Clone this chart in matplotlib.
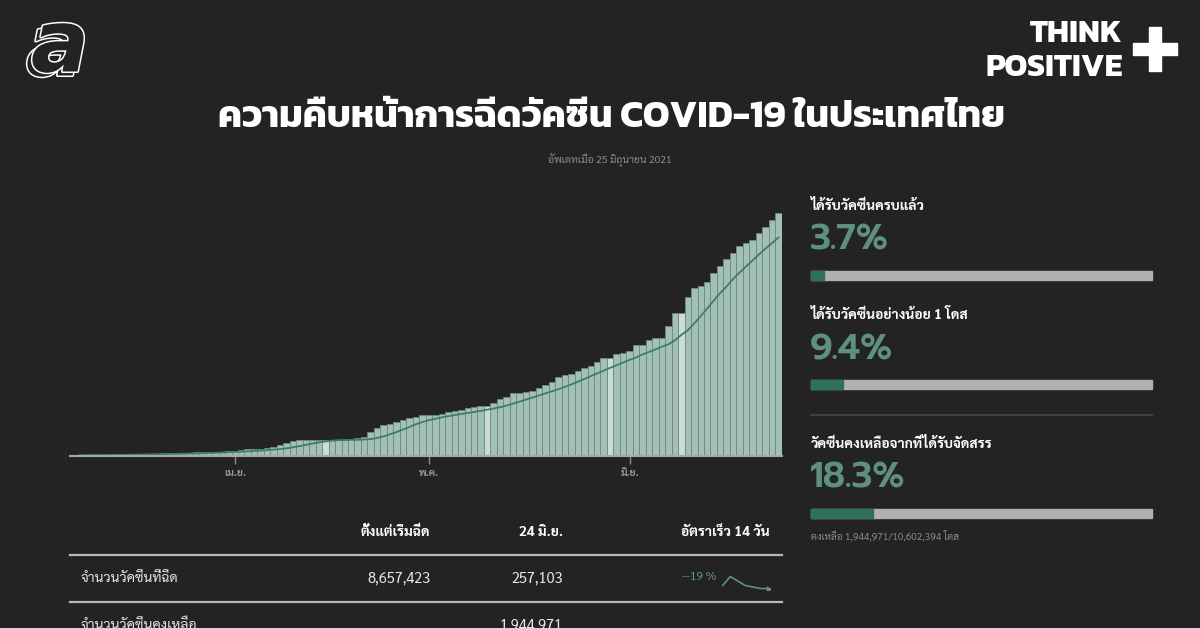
import matplotlib
matplotlib.use('Agg')
import matplotlib.pyplot as plt
from matplotlib import font_manager
from matplotlib.ft2font import FT2Font
from matplotlib.patches import Rectangle
import matplotlib.patheffects as pe
import numpy as np
import pandas as pd

# look for fonts that can draw Thai
def find_thai():
    found = []
    for f in font_manager.fontManager.ttflist:
        try:
            cm = FT2Font(f.fname).get_charmap()
        except Exception:
            continue
        if 0x0E01 in cm and 0x0E35 in cm:
            found.append(f.name)
    return found

THAI = set(find_thai())
def pick(*names):
    for n in names:
        if n in THAI:
            return [n, 'DejaVu Sans']
    return ['DejaVu Sans']

BODY = pick('Sarabun', 'IBM Plex Sans Thai Looped', 'Loma', 'Noto Sans Thai')
HEAD = pick('Kanit', 'Prompt', 'Mitr', 'Noto Sans Thai')
NUM = pick('Prompt', 'Kanit', 'Noto Sans Thai')
plt.rcParams['font.family'] = BODY

# ---- data ----
start_date = '2021-03-07'
doses_m = [0.03, 0.03, 0.04, 0.04, 0.04, 0.05, 0.05, 0.05, 0.06, 0.06, 0.07, 0.07, 0.08, 0.08, 0.09, 0.09, 0.10, 0.10,
           0.11, 0.13, 0.13, 0.14, 0.14, 0.15, 0.19, 0.19, 0.20, 0.24, 0.24, 0.25, 0.28, 0.32, 0.38, 0.46, 0.53, 0.56,
           0.57, 0.57, 0.57, 0.57,
           0.58, 0.58, 0.58, 0.59, 0.63, 0.68,
           0.85, 1.00, 1.09, 1.13, 1.22, 1.28, 1.34, 1.40, 1.46, 1.47, 1.47, 1.49, 1.58, 1.61, 1.65, 1.71, 1.73, 1.78,
           1.78,
           1.90, 2.02, 2.11, 2.23, 2.23, 2.27, 2.32, 2.43, 2.53, 2.63, 2.80, 2.87,
           2.92, 3.01, 3.14, 3.20, 3.33, 3.50,
           3.50,
           3.62, 3.65, 3.75, 3.95, 3.95, 4.13, 4.19, 4.21, 4.64, 5.10,
           5.10,
           5.67, 5.97, 6.06, 6.18, 6.50, 6.77, 7.00, 7.21, 7.48, 7.59, 7.69, 7.92, 8.14, 8.40, 8.657423]
no_update_days = ['2021-04-15', '2021-05-10', '2021-05-29', '2021-06-09']
month_ticks = ['2021-04-01', '2021-05-01', '2021-06-01']
month_labels = ['เม.ย.', 'พ.ค.', 'มิ.ย.']

panel_titles = ['ได้รับวัคซีนครบแล้ว', 'ได้รับวัคซีนอย่างน้อย 1 โดส', 'วัคซีนคงเหลือจากที่ได้รับจัดสรร']
panel_pcts = [3.7, 9.4, 18.3]
panel_note = 'คงเหลือ 1,944,971/10,602,394 โดส'

table_cols = ['ตั้งแต่เริ่มฉีด', '24 มิ.ย.', 'อัตราเร็ว 14 วัน']
table_rows = ['จำนวนวัคซีนที่ฉีด', 'จำนวนวัคซีนคงเหลือ']
table_total = ['8,657,423', '']
table_day = ['257,103', '1,944,971']
table_rate = ['--19 %', '']
spark_vals = [5, 11, 8, 5, 4, 3, 3]

title = 'ความคืบหน้าการฉีดวัคซีน COVID-19 ในประเทศไทย'
subtitle = 'อัพเดทเมื่อ 25 มิถุนายน 2021'

BG = '#232323'
TEAL_TXT = '#5e8f7f'
TEAL = '#2f6f5e'
W, H = 1200, 628

fig = plt.figure(figsize=(12, 6.28), dpi=100, facecolor=BG)

def box(x0, y0, x1, y1):
    # pixel box (from top-left) -> figure fraction
    return [x0 / W, 1 - y1 / H, (x1 - x0) / W, (y1 - y0) / H]

# overlay for texts/shapes in pixel coords
ov = fig.add_axes([0, 0, 1, 1])
ov.set_xlim(0, W)
ov.set_ylim(H, 0)
ov.axis('off')

# ---- main chart ----
dates = pd.date_range(start_date, periods=len(doses_m), freq='D')
s = pd.Series(doses_m, index=dates)
avg = s.rolling(7, min_periods=1).mean().shift(1)
light = pd.to_datetime(no_update_days)
cols = ['#c9ddd3' if d in light else '#a3c0b4' for d in dates]

ax = fig.add_axes(box(69.7, 203.1, 781.7, 456))
ax.set_facecolor(BG)
ax.bar(dates, s.values, width=1.0, color=cols, edgecolor='#6f8a80', linewidth=0.6)
ax.plot(dates, avg.values, color='#3d7c68', lw=1.3)
ax.set_xlim(dates[0] - pd.Timedelta(hours=12), dates[-1] + pd.Timedelta(hours=12))
ax.set_ylim(0, 9.0)
for sp in ['top', 'right', 'left']:
    ax.spines[sp].set_visible(False)
ax.spines['bottom'].set_color('#a8a8a8')
ax.spines['bottom'].set_linewidth(1.5)
ax.set_yticks([])
ax.set_xticks(pd.to_datetime(month_ticks))
ax.set_xticklabels(month_labels, fontsize=7.5, color='#8d9ba3', fontweight='bold')
ax.tick_params(axis='x', length=6, width=1, color='#8a8a8a', pad=3)

# ---- title ----
ov.text(611, 118, title, color='white', fontsize=27, fontweight='bold', ha='center', va='center', family=HEAD)
ov.text(610, 160, subtitle, color='#8a8a8a', fontsize=7.5, ha='center', va='center')

# ---- logos ----
# outlined "a" with a small offset copy behind it for the 3D look
for dx, dy in [(-5, 4), (0, 0)]:
    ov.text(60 + dx, 48 + dy, 'a', color=BG, fontsize=62, fontweight='bold', style='oblique', ha='center',
            va='center', family='DejaVu Sans', path_effects=[pe.withStroke(linewidth=2.2, foreground='white')])
ov.text(1123, 35, 'THINK', color='white', fontsize=23, fontweight='bold', ha='right', va='center', family=HEAD)
ov.text(1123, 68, 'POSITIVE', color='white', fontsize=23, fontweight='bold', ha='right', va='center', family=HEAD)
ov.add_patch(Rectangle((1149, 27), 12, 44, color='white'))
ov.add_patch(Rectangle((1133, 43), 44, 12, color='white'))

# ---- right panel ----
px0, px1 = 811, 1152
tops = [206, 315, 444]
for t, pct, yt in zip(panel_titles, panel_pcts, tops):
    ov.text(px0, yt, t, color='white', fontsize=10, fontweight='bold', ha='left', va='center')
    ov.text(px0 - 1, yt + 35, f'{pct}%', color=TEAL_TXT, fontsize=26, fontweight='semibold', ha='left', va='center',
            family=NUM)
    by = yt + 65
    ov.add_patch(Rectangle((px0, by), px1 - px0, 9, color='#b0b0b0'))
    ov.add_patch(Rectangle((px0, by), (px1 - px0) * pct / 100, 9, color=TEAL))
ov.plot([px0, px1], [415, 415], color='#474747', lw=1.2)
ov.text(px0, 536, panel_note, color='#8a8a8a', fontsize=7.2, ha='left', va='center')

# ---- table ----
col_x = [430, 563, 770]
for c, x in zip(table_cols, col_x):
    ov.text(x, 532, c, color='white', fontsize=10, fontweight='bold', ha='right', va='center')
ov.plot([70, 782], [555, 555], color='#b8b8b8', lw=1.6)
ov.plot([70, 782], [602, 602], color='#b8b8b8', lw=1.6)
row_y = [578, 625]
for r, tot, day, rate, y in zip(table_rows, table_total, table_day, table_rate, row_y):
    ov.text(81, y, r, color='#e6e6e6', fontsize=10, ha='left', va='center')
    ov.text(col_x[0], y, tot, color='#e6e6e6', fontsize=10.5, ha='right', va='center')
    ov.text(col_x[1], y, day, color='#e6e6e6', fontsize=10.5, ha='right', va='center')
    ov.text(716, y, rate, color=TEAL_TXT, fontsize=8.5, ha='right', va='center')

# sparkline
sp_ax = fig.add_axes(box(722, 575, 770, 590))
sp_ax.plot(range(len(spark_vals)), spark_vals, color='#5e8f7f', lw=1.2)
sp_ax.plot(len(spark_vals) - 1, spark_vals[-1], marker=(3, 0, -90), color='#5e8f7f', ms=4)
sp_ax.set_xlim(-0.1, len(spark_vals) - 0.7)
sp_ax.set_ylim(2, 12)
sp_ax.axis('off')

fig.savefig('out.png', dpi=100, facecolor=BG)
